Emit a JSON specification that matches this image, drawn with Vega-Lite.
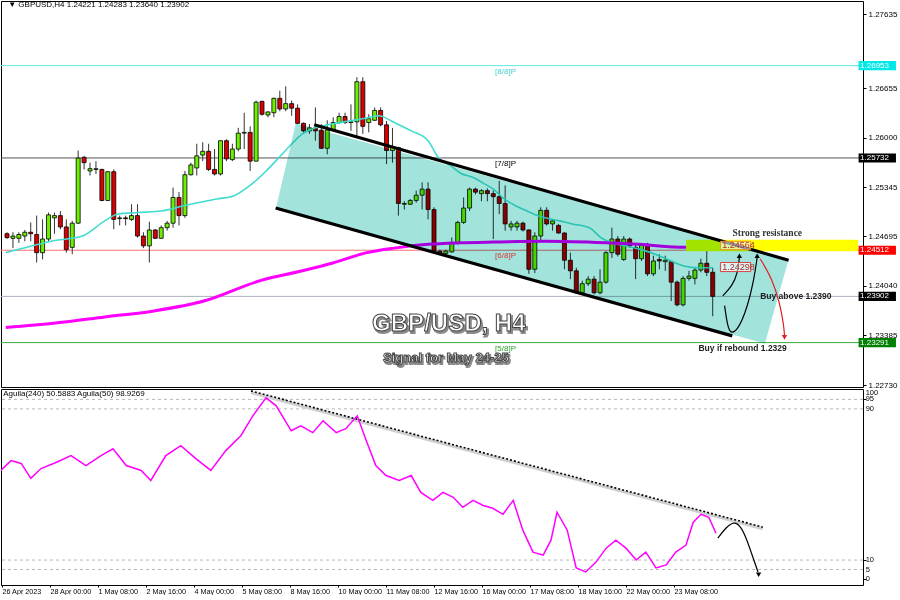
{
"$schema": "https://vega.github.io/schema/vega-lite/v6.json",
"background": "white",
"padding": 0,
"spacing": 2,
"bounds": "flush",
"config": {
  "view": {"stroke": "#000", "strokeWidth": 1},
  "font": "Liberation Sans",
  "axis": {"labelFont": "Liberation Sans", "labelFontSize": 8, "labelColor": "#000", "tickColor": "#000", "tickSize": 3, "grid": false, "domain": false, "labelPadding": 2, "labelOverlap": false, "labelFlush": false, "labelBound": false}
},
"datasets": {
  "candles": [
    {"i":-8,"o":1.2473,"h":1.2475,"l":1.2466,"c":1.2468},
    {"i":-7,"o":1.2467,"h":1.2475,"l":1.2454,"c":1.2470},
    {"i":-6,"o":1.2467,"h":1.2475,"l":1.2461,"c":1.2472},
    {"i":-5,"o":1.2470,"h":1.2478,"l":1.2463,"c":1.2475},
    {"i":-4,"o":1.2475,"h":1.2488,"l":1.2463,"c":1.2473},
    {"i":-3,"o":1.2472,"h":1.2497,"l":1.2435,"c":1.2448},
    {"i":-2,"o":1.2448,"h":1.2492,"l":1.2439,"c":1.2466},
    {"i":-1,"o":1.2466,"h":1.2501,"l":1.2463,"c":1.2498},
    {"i":0,"o":1.2494,"h":1.2501,"l":1.2473,"c":1.2497},
    {"i":1,"o":1.2497,"h":1.2503,"l":1.2479,"c":1.2482},
    {"i":2,"o":1.2482,"h":1.2492,"l":1.2448,"c":1.2452},
    {"i":3,"o":1.2455,"h":1.2490,"l":1.2446,"c":1.2487},
    {"i":4,"o":1.2487,"h":1.2583,"l":1.2486,"c":1.2573},
    {"i":5,"o":1.2574,"h":1.2576,"l":1.2558,"c":1.2567},
    {"i":6,"o":1.2556,"h":1.2567,"l":1.2550,"c":1.2559},
    {"i":7,"o":1.2558,"h":1.2569,"l":1.2552,"c":1.2559},
    {"i":8,"o":1.2558,"h":1.2559,"l":1.2516,"c":1.2517},
    {"i":9,"o":1.2517,"h":1.2556,"l":1.2516,"c":1.2555},
    {"i":10,"o":1.2555,"h":1.2558,"l":1.2479,"c":1.2492},
    {"i":11,"o":1.2493,"h":1.2497,"l":1.2484,"c":1.2494},
    {"i":12,"o":1.2494,"h":1.2497,"l":1.2484,"c":1.2493},
    {"i":13,"o":1.2492,"h":1.2512,"l":1.2490,"c":1.2497},
    {"i":14,"o":1.2497,"h":1.2512,"l":1.2468,"c":1.2470},
    {"i":15,"o":1.2470,"h":1.2475,"l":1.2454,"c":1.2457},
    {"i":16,"o":1.2457,"h":1.2489,"l":1.2435,"c":1.2478},
    {"i":17,"o":1.2478,"h":1.2479,"l":1.2466,"c":1.2467},
    {"i":18,"o":1.2467,"h":1.2484,"l":1.2466,"c":1.2481},
    {"i":19,"o":1.2481,"h":1.2490,"l":1.2477,"c":1.2487},
    {"i":20,"o":1.2487,"h":1.2534,"l":1.2481,"c":1.2521},
    {"i":21,"o":1.2521,"h":1.2528,"l":1.2484,"c":1.2497},
    {"i":22,"o":1.2497,"h":1.2556,"l":1.2494,"c":1.2551},
    {"i":23,"o":1.2551,"h":1.2567,"l":1.2550,"c":1.2564},
    {"i":24,"o":1.2560,"h":1.2592,"l":1.2550,"c":1.2576},
    {"i":25,"o":1.2577,"h":1.2594,"l":1.2569,"c":1.2582},
    {"i":26,"o":1.2582,"h":1.2592,"l":1.2556,"c":1.2558},
    {"i":27,"o":1.2558,"h":1.2585,"l":1.2550,"c":1.2552},
    {"i":28,"o":1.2552,"h":1.2596,"l":1.2550,"c":1.2596},
    {"i":29,"o":1.2596,"h":1.2598,"l":1.2569,"c":1.2572},
    {"i":30,"o":1.2571,"h":1.2592,"l":1.2569,"c":1.2585},
    {"i":31,"o":1.2585,"h":1.2613,"l":1.2582,"c":1.2606},
    {"i":32,"o":1.2606,"h":1.2633,"l":1.2585,"c":1.2607},
    {"i":33,"o":1.2607,"h":1.2615,"l":1.2556,"c":1.2569},
    {"i":34,"o":1.2569,"h":1.2649,"l":1.2569,"c":1.2647},
    {"i":35,"o":1.2648,"h":1.2649,"l":1.2629,"c":1.2631},
    {"i":36,"o":1.2630,"h":1.2635,"l":1.2627,"c":1.2634},
    {"i":37,"o":1.2633,"h":1.2653,"l":1.2627,"c":1.2652},
    {"i":38,"o":1.2652,"h":1.2662,"l":1.2635,"c":1.2638},
    {"i":39,"o":1.2638,"h":1.2668,"l":1.2635,"c":1.2645},
    {"i":40,"o":1.2645,"h":1.2649,"l":1.2629,"c":1.2639},
    {"i":41,"o":1.2639,"h":1.2644,"l":1.2618,"c":1.2619},
    {"i":42,"o":1.2619,"h":1.2620,"l":1.2607,"c":1.2609},
    {"i":43,"o":1.2609,"h":1.2618,"l":1.2605,"c":1.2613},
    {"i":44,"o":1.2613,"h":1.2640,"l":1.2596,"c":1.2609},
    {"i":45,"o":1.2610,"h":1.2618,"l":1.2585,"c":1.2586},
    {"i":46,"o":1.2586,"h":1.2623,"l":1.2578,"c":1.2610},
    {"i":47,"o":1.2610,"h":1.2627,"l":1.2609,"c":1.2620},
    {"i":48,"o":1.2620,"h":1.2633,"l":1.2618,"c":1.2628},
    {"i":49,"o":1.2628,"h":1.2633,"l":1.2618,"c":1.2620},
    {"i":50,"o":1.2620,"h":1.2644,"l":1.2609,"c":1.2621},
    {"i":51,"o":1.2621,"h":1.2680,"l":1.2602,"c":1.2674},
    {"i":52,"o":1.2674,"h":1.2680,"l":1.2605,"c":1.2615},
    {"i":53,"o":1.2620,"h":1.2631,"l":1.2607,"c":1.2625},
    {"i":54,"o":1.2623,"h":1.2640,"l":1.2622,"c":1.2636},
    {"i":55,"o":1.2636,"h":1.2640,"l":1.2615,"c":1.2617},
    {"i":56,"o":1.2617,"h":1.2622,"l":1.2565,"c":1.2583},
    {"i":57,"o":1.2583,"h":1.2613,"l":1.2567,"c":1.2587},
    {"i":58,"o":1.2587,"h":1.2588,"l":1.2497,"c":1.2513},
    {"i":59,"o":1.2512,"h":1.2516,"l":1.2505,"c":1.2513},
    {"i":60,"o":1.2512,"h":1.2519,"l":1.2511,"c":1.2517},
    {"i":61,"o":1.2517,"h":1.2530,"l":1.2514,"c":1.2524},
    {"i":62,"o":1.2524,"h":1.2541,"l":1.2505,"c":1.2532},
    {"i":63,"o":1.2532,"h":1.2541,"l":1.2492,"c":1.2505},
    {"i":64,"o":1.2505,"h":1.2508,"l":1.2448,"c":1.2450},
    {"i":65,"o":1.2450,"h":1.2452,"l":1.2446,"c":1.2447},
    {"i":66,"o":1.2447,"h":1.2452,"l":1.2446,"c":1.2450},
    {"i":67,"o":1.2449,"h":1.2468,"l":1.2448,"c":1.2461},
    {"i":68,"o":1.2461,"h":1.2490,"l":1.2459,"c":1.2488},
    {"i":69,"o":1.2488,"h":1.2521,"l":1.2486,"c":1.2507},
    {"i":70,"o":1.2507,"h":1.2534,"l":1.2503,"c":1.2532},
    {"i":71,"o":1.2532,"h":1.2534,"l":1.2525,"c":1.2528},
    {"i":72,"o":1.2526,"h":1.2532,"l":1.2516,"c":1.2530},
    {"i":73,"o":1.2530,"h":1.2533,"l":1.2516,"c":1.2526},
    {"i":74,"o":1.2526,"h":1.2530,"l":1.2466,"c":1.2522},
    {"i":75,"o":1.2522,"h":1.2543,"l":1.2499,"c":1.2513},
    {"i":76,"o":1.2513,"h":1.2537,"l":1.2477,"c":1.2486},
    {"i":77,"o":1.2482,"h":1.2490,"l":1.2477,"c":1.2486},
    {"i":78,"o":1.2482,"h":1.2490,"l":1.2477,"c":1.2487},
    {"i":79,"o":1.2487,"h":1.2489,"l":1.2476,"c":1.2478},
    {"i":80,"o":1.2478,"h":1.2479,"l":1.2420,"c":1.2426},
    {"i":81,"o":1.2426,"h":1.2475,"l":1.2421,"c":1.2470},
    {"i":82,"o":1.2470,"h":1.2508,"l":1.2463,"c":1.2504},
    {"i":83,"o":1.2504,"h":1.2508,"l":1.2484,"c":1.2486},
    {"i":84,"o":1.2486,"h":1.2492,"l":1.2477,"c":1.2490},
    {"i":85,"o":1.2484,"h":1.2486,"l":1.2473,"c":1.2474},
    {"i":86,"o":1.2474,"h":1.2475,"l":1.2426,"c":1.2438},
    {"i":87,"o":1.2438,"h":1.2448,"l":1.2413,"c":1.2424},
    {"i":88,"o":1.2424,"h":1.2428,"l":1.2394,"c":1.2395},
    {"i":89,"o":1.2395,"h":1.2411,"l":1.2394,"c":1.2407},
    {"i":90,"o":1.2407,"h":1.2417,"l":1.2404,"c":1.2413},
    {"i":91,"o":1.2413,"h":1.2417,"l":1.2393,"c":1.2395},
    {"i":92,"o":1.2395,"h":1.2426,"l":1.2393,"c":1.2409},
    {"i":93,"o":1.2409,"h":1.2450,"l":1.2407,"c":1.2448},
    {"i":94,"o":1.2448,"h":1.2481,"l":1.2441,"c":1.2466},
    {"i":95,"o":1.2466,"h":1.2470,"l":1.2443,"c":1.2446},
    {"i":96,"o":1.2439,"h":1.2470,"l":1.2437,"c":1.2466},
    {"i":97,"o":1.2466,"h":1.2468,"l":1.2454,"c":1.2457},
    {"i":98,"o":1.2455,"h":1.2459,"l":1.2413,"c":1.2440},
    {"i":99,"o":1.2440,"h":1.2461,"l":1.2437,"c":1.2459},
    {"i":100,"o":1.2459,"h":1.2461,"l":1.2417,"c":1.2420},
    {"i":101,"o":1.2420,"h":1.2444,"l":1.2417,"c":1.2437},
    {"i":102,"o":1.2439,"h":1.2446,"l":1.2426,"c":1.2437},
    {"i":103,"o":1.2436,"h":1.2444,"l":1.2424,"c":1.2438},
    {"i":104,"o":1.2436,"h":1.2437,"l":1.2384,"c":1.2409},
    {"i":105,"o":1.2409,"h":1.2411,"l":1.2377,"c":1.2379},
    {"i":106,"o":1.2379,"h":1.2417,"l":1.2377,"c":1.2414},
    {"i":107,"o":1.2414,"h":1.2424,"l":1.2411,"c":1.2417},
    {"i":108,"o":1.2414,"h":1.2428,"l":1.2406,"c":1.2425},
    {"i":109,"o":1.2425,"h":1.2440,"l":1.2422,"c":1.2434},
    {"i":110,"o":1.2434,"h":1.2459,"l":1.2417,"c":1.2422},
    {"i":111,"o":1.24221,"h":1.24283,"l":1.23640,"c":1.23902}
  ],
  "ma21": [
    {"i":-8.2,"p":1.2448},{"i":-2.7,"p":1.2459},{"i":0,"p":1.2464},{"i":3,"p":1.2467},{"i":4.7,"p":1.2470},{"i":8.5,"p":1.2490},{"i":10.7,"p":1.2499},{"i":14,"p":1.2501},{"i":18,"p":1.2503},{"i":21.8,"p":1.2510},{"i":27.3,"p":1.2519},{"i":30.2,"p":1.2523},{"i":33,"p":1.2537},{"i":35.7,"p":1.2556},{"i":37.3,"p":1.2569},{"i":39.7,"p":1.2589},{"i":41.8,"p":1.2605},{"i":44,"p":1.2613},{"i":46.8,"p":1.2618},{"i":49.7,"p":1.2622},{"i":52.7,"p":1.2626},{"i":54.7,"p":1.2629},{"i":57.3,"p":1.2620},{"i":60.2,"p":1.2609},{"i":63,"p":1.2596},{"i":64.8,"p":1.2573},{"i":66.8,"p":1.2563},{"i":68.5,"p":1.2553},{"i":70.7,"p":1.2547},{"i":72.3,"p":1.2540},{"i":74,"p":1.2532},{"i":75.7,"p":1.2520},{"i":77.3,"p":1.2512},{"i":79.7,"p":1.2503},{"i":81.8,"p":1.2496},{"i":85.2,"p":1.2490},{"i":87.3,"p":1.2486},{"i":90.2,"p":1.2481},{"i":92.3,"p":1.2467},{"i":94,"p":1.2461},{"i":96.3,"p":1.2457},{"i":98.5,"p":1.2453},{"i":101.3,"p":1.2446},{"i":104,"p":1.2437},{"i":106.3,"p":1.2430},{"i":108.5,"p":1.2428},{"i":111,"p":1.2428}
  ],
  "ma200": [
    {"i":-8.2,"p":1.2349},{"i":0.2,"p":1.2355},{"i":8.5,"p":1.2363},{"i":16.8,"p":1.2371},{"i":25.2,"p":1.2384},{"i":34.7,"p":1.2411},{"i":41.8,"p":1.2424},{"i":46.8,"p":1.2434},{"i":52.7,"p":1.2448},{"i":57.3,"p":1.2454},{"i":63,"p":1.2459},{"i":68.5,"p":1.2461},{"i":74,"p":1.2462},{"i":82.7,"p":1.2463},{"i":93,"p":1.2461},{"i":98.5,"p":1.2459},{"i":106.3,"p":1.2455},{"i":111,"p":1.2455}
  ],
  "aguila": [
    {"i":-8.2,"v":57.4},{"i":-6.5,"v":62.6},{"i":-4.8,"v":61.1},{"i":-3.2,"v":53.2},{"i":-1.5,"v":58.4},{"i":1,"v":61.6},{"i":3.5,"v":65.3},{"i":6,"v":60},{"i":8.5,"v":65.3},{"i":10.5,"v":68.9},{"i":12.7,"v":60},{"i":15.2,"v":57.4},{"i":16.8,"v":52.1},{"i":19.3,"v":65.3},{"i":21.8,"v":70.5},{"i":24.3,"v":63.7},{"i":26.8,"v":57.4},{"i":29.3,"v":67.9},{"i":31.8,"v":75.8},{"i":33.8,"v":86.3},{"i":36,"v":95.8},{"i":37.7,"v":91.6},{"i":40.2,"v":78.4},{"i":41.8,"v":81},{"i":43.8,"v":77.4},{"i":45.5,"v":83.7},{"i":47.7,"v":77.4},{"i":49.3,"v":79.5},{"i":51.2,"v":86.3},{"i":52.7,"v":73.2},{"i":54.3,"v":60},{"i":56,"v":54.7},{"i":58.2,"v":52.1},{"i":60.2,"v":54.7},{"i":61.8,"v":45.8},{"i":63.8,"v":41.6},{"i":65.5,"v":45.8},{"i":67.2,"v":43.2},{"i":68.8,"v":37.9},{"i":70.5,"v":41.6},{"i":72.2,"v":38.9},{"i":73.8,"v":37.4},{"i":75.5,"v":34.2},{"i":77.2,"v":41.6},{"i":78.8,"v":25.8},{"i":80.5,"v":14.2},{"i":82.2,"v":12.6},{"i":83.5,"v":20.5},{"i":84.5,"v":35.3},{"i":86.2,"v":25.8},{"i":87.7,"v":5.8},{"i":89.3,"v":3.7},{"i":91,"v":8.9},{"i":92.7,"v":16.3},{"i":94.3,"v":20.5},{"i":96,"v":16.3},{"i":97.7,"v":10},{"i":99.3,"v":14.2},{"i":101,"v":5.8},{"i":102.7,"v":7.4},{"i":104.3,"v":14.2},{"i":106,"v":17.9},{"i":107.2,"v":30},{"i":108.5,"v":34.2},{"i":109.8,"v":32.6},{"i":111,"v":24.2}
  ],
  "levels": [
    {"p":1.26953,"c":"#5ee8e8","t":"[8/8]P","tc":"#40d0d0","bg":"#00e8e8"},
    {"p":1.25732,"c":"#555555","t":"[7/8]P","tc":"#000000","bg":"#000000"},
    {"p":1.24512,"c":"#ff7070","t":"[6/8]P","tc":"#e03030","bg":"#ff0000"},
    {"p":1.23902,"c":"#a8b0bc","t":"","tc":"#000000","bg":"#000000"},
    {"p":1.23291,"c":"#3caa3c","t":"[5/8]P","tc":"#2aa02a","bg":"#008000"}
  ],
  "arrows": [
    {"g":"a1","k":0,"i":112.7,"p":1.2391,"c":"#000000"},
    {"g":"a1","k":1,"i":114.3,"p":1.2404,"c":"#000000"},
    {"g":"a1","k":2,"i":115.2,"p":1.2421,"c":"#000000"},
    {"g":"a1","k":3,"i":115.5,"p":1.2442,"c":"#000000"},
    {"g":"a2","k":0,"i":113,"p":1.2378,"c":"#000000"},
    {"g":"a2","k":1,"i":113.5,"p":1.2351,"c":"#000000"},
    {"g":"a2","k":2,"i":114,"p":1.2341,"c":"#000000"},
    {"g":"a2","k":3,"i":115.2,"p":1.2345,"c":"#000000"},
    {"g":"a2","k":4,"i":116.8,"p":1.2374,"c":"#000000"},
    {"g":"a2","k":5,"i":118,"p":1.2414,"c":"#000000"},
    {"g":"a2","k":6,"i":118.5,"p":1.2442,"c":"#000000"},
    {"g":"r","k":0,"i":119,"p":1.2440,"c":"#e02020"},
    {"g":"r","k":1,"i":121,"p":1.2414,"c":"#e02020"},
    {"g":"r","k":2,"i":122.3,"p":1.2382,"c":"#e02020"},
    {"g":"r","k":3,"i":123,"p":1.2351,"c":"#e02020"},
    {"g":"r","k":4,"i":123.1,"p":1.2339,"c":"#e02020"}
  ],
  "heads": [
    {"i":115.5,"p":1.2444,"s":"triangle-up","c":"#000000"},
    {"i":118.5,"p":1.2444,"s":"triangle-up","c":"#000000"},
    {"i":123.1,"p":1.2336,"s":"triangle-down","c":"#e02020"}
  ]
},
"vconcat": [
{
  "width": 862,
  "height": 386,
  "layer": [
    {
      "data": {"name": "levels"},
      "mark": {"type": "rule", "strokeWidth": 1},
      "encoding": {
        "y": {"field": "p", "type": "quantitative", "scale": {"domain": [1.22704, 1.27807], "nice": false, "zero": false},
              "axis": {"orient": "right", "title": null, "format": ".5f", "labelOverlap": false, "values": [1.27635, 1.27305, 1.26655, 1.26325, 1.26000, 1.25675, 1.25345, 1.25020, 1.24695, 1.24365, 1.24040, 1.23715, 1.23385, 1.23060, 1.22730]}},
        "color": {"field": "c", "type": "nominal", "scale": null}
      }
    },
    {
      "data": {"name": "candles"},
      "mark": {"type": "rule", "color": "#333333", "strokeWidth": 1, "clip": true},
      "encoding": {
        "x": {"field": "i", "type": "quantitative", "scale": {"domain": [-8.17, 135.5], "nice": false, "zero": false}, "axis": null},
        "y": {"field": "l", "type": "quantitative"},
        "y2": {"field": "h"}
      }
    },
    {
      "data": {"name": "candles"},
      "mark": {"type": "bar", "size": 4, "stroke": "#000000", "strokeWidth": 0.8, "clip": true},
      "encoding": {
        "x": {"field": "i", "type": "quantitative"},
        "y": {"field": "o", "type": "quantitative"},
        "y2": {"field": "c"},
        "fill": {"condition": {"test": "datum.c >= datum.o", "value": "#6cf000"}, "value": "#d80000"}
      }
    },
    {
      "data": {"name": "ma21"},
      "mark": {"type": "line", "color": "#40dcd0", "strokeWidth": 1.6, "interpolate": "monotone", "clip": true},
      "encoding": {"x": {"field": "i", "type": "quantitative"}, "y": {"field": "p", "type": "quantitative"}}
    },
    {
      "data": {"name": "ma200"},
      "mark": {"type": "line", "color": "#ff00ff", "strokeWidth": 3, "interpolate": "monotone", "clip": true},
      "encoding": {"x": {"field": "i", "type": "quantitative"}, "y": {"field": "p", "type": "quantitative"}}
    },
    {
      "data": {"values": [{"i": 106.5, "i2": 135.5, "p": 1.2450, "p2": 1.2465}]},
      "mark": {"type": "rect", "color": "#ffff00", "blend": "multiply", "clip": true},
      "encoding": {"x": {"field": "i", "type": "quantitative"}, "x2": {"field": "i2"}, "y": {"field": "p", "type": "quantitative"}, "y2": {"field": "p2"}}
    },
    {
      "data": {"values": [
        {"i": 37.3, "t": 1.2505, "b": 1.2505},
        {"i": 40.7, "t": 1.2619, "b": 1.2498},
        {"i": 119.8, "t": 1.2448, "b": 1.2328},
        {"i": 123.8, "t": 1.2439, "b": 1.2439}
      ]},
      "mark": {"type": "area", "color": "#a2e4dc", "blend": "multiply", "opacity": 1},
      "encoding": {"x": {"field": "i", "type": "quantitative"}, "y": {"field": "t", "type": "quantitative"}, "y2": {"field": "b"}}
    },
    {
      "data": {"values": [
        {"g": "u", "i": 43.8, "p": 1.2617},
        {"g": "u", "i": 123.8, "p": 1.2438},
        {"g": "l", "i": 37.3, "p": 1.2507},
        {"g": "l", "i": 114.3, "p": 1.2338}
      ]},
      "mark": {"type": "line", "color": "#000000", "strokeWidth": 3.2},
      "encoding": {"x": {"field": "i", "type": "quantitative"}, "y": {"field": "p", "type": "quantitative"}, "detail": {"field": "g"}}
    },
    {
      "data": {"name": "levels"},
      "transform": [{"filter": "datum.t != ''"}],
      "mark": {"type": "text", "align": "left", "baseline": "top", "dy": 2, "fontSize": 8},
      "encoding": {"x": {"datum": 74.3, "type": "quantitative"}, "y": {"field": "p", "type": "quantitative"}, "text": {"field": "t"}, "color": {"field": "tc", "type": "nominal", "scale": null}}
    },
    {
      "data": {"name": "arrows"},
      "mark": {"type": "line", "strokeWidth": 1.2, "interpolate": "basis"},
      "encoding": {"x": {"field": "i", "type": "quantitative"}, "y": {"field": "p", "type": "quantitative"}, "detail": {"field": "g"}, "order": {"field": "k"}, "color": {"field": "c", "type": "nominal", "scale": null}}
    },
    {
      "data": {"name": "heads"},
      "mark": {"type": "point", "filled": true, "size": 28, "opacity": 1},
      "encoding": {"x": {"field": "i", "type": "quantitative"}, "y": {"field": "p", "type": "quantitative"}, "shape": {"field": "s", "type": "nominal", "scale": null}, "color": {"field": "c", "type": "nominal", "scale": null}}
    },
    {
      "data": {"values": [
        {"i": 112.3, "i2": 117.4, "p": 1.2435, "p2": 1.2423, "c": "#e04040"},
        {"i": 112.3, "i2": 117.4, "p": 1.2463, "p2": 1.2452, "c": "#f09020"}
      ]},
      "mark": {"type": "rect", "fill": "#ffffff", "fillOpacity": 0.6, "strokeWidth": 1},
      "encoding": {"x": {"field": "i", "type": "quantitative"}, "x2": {"field": "i2"}, "y": {"field": "p", "type": "quantitative"}, "y2": {"field": "p2"}, "stroke": {"field": "c", "type": "nominal", "scale": null}}
    },
    {
      "data": {"values": [
        {"i": 112.6, "p": 1.24290, "t": "1.24298"},
        {"i": 112.6, "p": 1.24575, "t": "1.24564"}
      ]},
      "mark": {"type": "text", "align": "left", "baseline": "middle", "fontSize": 9, "color": "#b03030"},
      "encoding": {"x": {"field": "i", "type": "quantitative"}, "y": {"field": "p", "type": "quantitative"}, "text": {"field": "t"}}
    },
    {
      "data": {"values": [{"i": 120.2, "p": 1.2474, "t": "Strong resistance"}]},
      "mark": {"type": "text", "align": "center", "baseline": "middle", "font": "Liberation Serif", "fontSize": 9.5, "fontWeight": "bold", "color": "#333333"},
      "encoding": {"x": {"field": "i", "type": "quantitative"}, "y": {"field": "p", "type": "quantitative"}, "text": {"field": "t"}}
    },
    {
      "data": {"values": [
        {"i": 119.0, "p": 1.2391, "t": "Buy above 1.2390"},
        {"i": 108.6, "p": 1.2322, "t": "Buy if rebound 1.2329"}
      ]},
      "mark": {"type": "text", "align": "left", "baseline": "middle", "fontSize": 8.5, "fontWeight": "bold", "color": "#222222"},
      "encoding": {"x": {"field": "i", "type": "quantitative"}, "y": {"field": "p", "type": "quantitative"}, "text": {"field": "t"}}
    },
    {
      "data": {"values": [
        {"i": 66.5, "p": 1.2354, "t": "GBP/USD, H4", "s": 24},
        {"i": 66.0, "p": 1.2309, "t": "Signal for May 24-25", "s": 13}
      ]},
      "mark": {"type": "text", "align": "center", "baseline": "middle", "fontWeight": "bold", "color": "#8a8a8a", "stroke": "#8a8a8a", "strokeWidth": 2, "dx": 1.5, "dy": 2},
      "encoding": {"x": {"field": "i", "type": "quantitative"}, "y": {"field": "p", "type": "quantitative"}, "text": {"field": "t"}, "size": {"field": "s", "type": "quantitative", "scale": null}}
    },
    {
      "data": {"values": [
        {"i": 66.5, "p": 1.2354, "t": "GBP/USD, H4", "s": 24},
        {"i": 66.0, "p": 1.2309, "t": "Signal for May 24-25", "s": 13}
      ]},
      "mark": {"type": "text", "align": "center", "baseline": "middle", "fontWeight": "bold", "color": "#ffffff", "stroke": "#444444", "strokeWidth": 1},
      "encoding": {"x": {"field": "i", "type": "quantitative"}, "y": {"field": "p", "type": "quantitative"}, "text": {"field": "t"}, "size": {"field": "s", "type": "quantitative", "scale": null}}
    },
    {
      "data": {"values": [{"i": -7.8, "p": 1.27754, "t": "▼ GBPUSD,H4  1.24221 1.24283 1.23640 1.23902"}]},
      "mark": {"type": "text", "align": "left", "baseline": "middle", "fontSize": 8, "color": "#000000"},
      "encoding": {"x": {"field": "i", "type": "quantitative"}, "y": {"field": "p", "type": "quantitative"}, "text": {"field": "t"}}
    },
    {
      "data": {"name": "levels"},
      "transform": [{"calculate": "datum.p + 0.0006", "as": "pt"}, {"calculate": "datum.p - 0.0006", "as": "pb"}],
      "mark": {"type": "rect", "clip": false},
      "encoding": {"x": {"datum": 135.6, "type": "quantitative"}, "x2": {"datum": 141.9}, "y": {"field": "pt", "type": "quantitative"}, "y2": {"field": "pb"}, "fill": {"field": "bg", "type": "nominal", "scale": null}}
    },
    {
      "data": {"name": "levels"},
      "mark": {"type": "text", "align": "left", "baseline": "middle", "fontSize": 8, "color": "#ffffff", "clip": false},
      "encoding": {"x": {"datum": 135.85, "type": "quantitative"}, "y": {"field": "p", "type": "quantitative"}, "text": {"field": "p", "type": "quantitative", "format": ".5f"}}
    }
  ]
},
{
  "width": 862,
  "height": 196,
  "layer": [
    {
      "data": {"values": [{"v": 95}, {"v": 90}, {"v": 10}, {"v": 5}]},
      "mark": {"type": "rule", "strokeDash": [3, 3], "color": "#b8b8b8", "strokeWidth": 1},
      "encoding": {"y": {"field": "v", "type": "quantitative", "scale": {"domain": [-3.2, 100.5], "nice": false, "zero": false}, "axis": {"orient": "right", "title": null, "labels": false, "values": [0, 5, 10, 90, 95, 100]}}}
    },
    {
      "data": {"values": [{"v": 95, "t": "95"}, {"v": 90, "t": "90"}, {"v": 10, "t": "10"}, {"v": 5, "t": "5"}, {"v": 0, "t": "0"}]},
      "mark": {"type": "text", "align": "left", "baseline": "middle", "fontSize": 7.5, "color": "#000000", "clip": false},
      "encoding": {"x": {"datum": 135.95, "type": "quantitative"}, "y": {"field": "v", "type": "quantitative"}, "text": {"field": "t"}}
    },
    {
      "data": {"values": [{"v": 100, "t": "100"}]},
      "mark": {"type": "text", "align": "left", "baseline": "top", "dy": -0.5, "fontSize": 7.5, "color": "#000000", "clip": false},
      "encoding": {"x": {"datum": 135.95, "type": "quantitative"}, "y": {"field": "v", "type": "quantitative"}, "text": {"field": "t"}}
    },
    {
      "data": {"values": [{"i": 33.5, "v": 98.6}, {"i": 118.8, "v": 26.5}]},
      "mark": {"type": "line", "color": "#cfcfcf", "strokeWidth": 3},
      "encoding": {"x": {"field": "i", "type": "quantitative", "scale": {"domain": [-8.17, 135.5], "nice": false, "zero": false},
                         "axis": {"orient": "bottom", "title": null, "tickSize": 2, "labelPadding": 0, "labelFontSize": 7.2, "labelOverlap": false, "values": [-8, 0, 8, 16, 24, 32, 40, 48, 56, 64, 72, 80, 88, 96, 104], "labelAlign": "left", "labelExpr": "['26 Apr 2023','28 Apr 00:00','1 May 08:00','2 May 16:00','4 May 00:00','5 May 08:00','8 May 16:00','10 May 00:00','11 May 08:00','12 May 16:00','16 May 00:00','17 May 08:00','18 May 16:00','22 May 00:00','23 May 08:00'][(datum.value + 8) / 8]"}},
                   "y": {"field": "v", "type": "quantitative"}}
    },
    {
      "data": {"values": [{"i": 33.5, "v": 99.5}, {"i": 118.8, "v": 27.4}]},
      "mark": {"type": "line", "color": "#000000", "strokeWidth": 1.6, "strokeDash": [2, 2]},
      "encoding": {"x": {"field": "i", "type": "quantitative"}, "y": {"field": "v", "type": "quantitative"}}
    },
    {
      "data": {"name": "aguila"},
      "mark": {"type": "line", "color": "#ff00ff", "strokeWidth": 1.5, "clip": true},
      "encoding": {"x": {"field": "i", "type": "quantitative"}, "y": {"field": "v", "type": "quantitative"}}
    },
    {
      "data": {"values": [
        {"k": 0, "i": 111.3, "v": 21.6}, {"k": 1, "i": 112.7, "v": 27.4}, {"k": 2, "i": 114, "v": 30.5}, {"k": 3, "i": 115.2, "v": 27.9}, {"k": 4, "i": 116.3, "v": 19.5}, {"k": 5, "i": 117.3, "v": 10}, {"k": 6, "i": 118, "v": 3.7}
      ]},
      "mark": {"type": "line", "color": "#000000", "strokeWidth": 1.2, "interpolate": "basis"},
      "encoding": {"x": {"field": "i", "type": "quantitative"}, "y": {"field": "v", "type": "quantitative"}, "order": {"field": "k"}}
    },
    {
      "data": {"values": [{"i": 118.1, "v": 2.2}]},
      "mark": {"type": "point", "shape": "triangle-down", "filled": true, "size": 28, "color": "#000000", "opacity": 1},
      "encoding": {"x": {"field": "i", "type": "quantitative"}, "y": {"field": "v", "type": "quantitative"}}
    },
    {
      "data": {"values": [{"i": -7.8, "v": 97.8, "t": "Aguila(240) 50.5883  Aguila(50) 98.9269"}]},
      "mark": {"type": "text", "align": "left", "baseline": "middle", "fontSize": 8, "color": "#000000"},
      "encoding": {"x": {"field": "i", "type": "quantitative"}, "y": {"field": "v", "type": "quantitative"}, "text": {"field": "t"}}
    }
  ]
}
]
}
